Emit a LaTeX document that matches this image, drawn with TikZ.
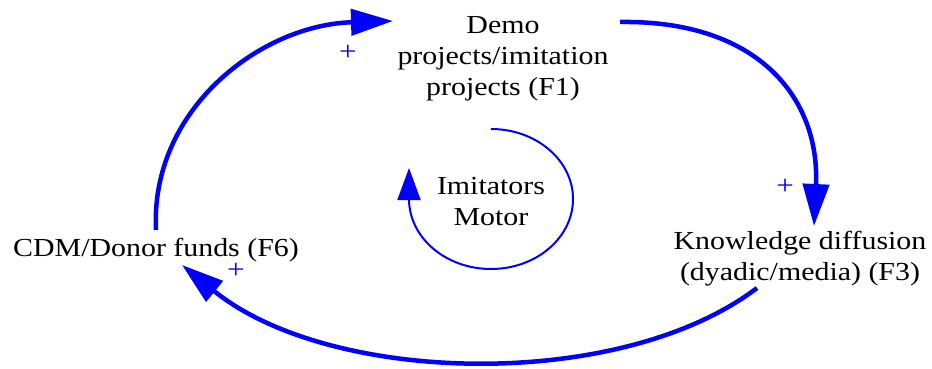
\documentclass[tikz,border=0pt]{standalone}
\usepackage{fontspec}
\setmainfont{Liberation Serif}[FakeStretch=1.15]
\usetikzlibrary{arrows.meta}
\definecolor{loopblue}{RGB}{0,0,255}
\begin{document}
\begin{tikzpicture}[x=1pt,y=-1pt,
  lbl/.style={align=center,inner sep=0pt,font=\fontsize{26}{31}\selectfont,text=black},
  link/.style={draw=loopblue,line width=4.5pt,-{Triangle[length=42pt,width=26pt]}},
  inner/.style={draw=loopblue,line width=2pt,-{Triangle[length=32pt,width=23pt]}},
  pol/.style={text=loopblue,inner sep=0pt,font=\fontsize{27}{27}\selectfont}]
\useasboundingbox (0,0) rectangle (932,369);
\node[lbl] (f1) at (503,59) {Demo\\projects/imitation\\projects (F1)};
\node[lbl] (im) at (491,202) {Imitators\\Motor};
\node[lbl] (f3) at (800,259) {Knowledge diffusion\\(dyadic/media) (F3)};
\node[lbl] (f6) at (156,250) {CDM/Donor funds (F6)};
\coordinate (s1) at (156,230);
\coordinate (e1) at (393,21);
\coordinate (s2) at (620,22);
\coordinate (e2) at (814,226);
\coordinate (s3) at (757,288);
\coordinate (e3) at (182,265);
\draw[link] (s1) .. controls (150,110) and (260,25) .. (e1);
\draw[link] (s2) .. controls (760,20) and (820,100) .. (e2);
\draw[link] (s3) .. controls (620,392) and (330,385) .. (e3);
\draw[inner] (491,129) arc[start angle=-90,end angle=180,x radius=82,y radius=70] -- ++(0,-31);
\node[pol] (p1) at (348,53) {+};
\node[pol] (p2) at (785,187) {+};
\node[pol] (p3) at (236,271) {+};
\end{tikzpicture}
\end{document}
